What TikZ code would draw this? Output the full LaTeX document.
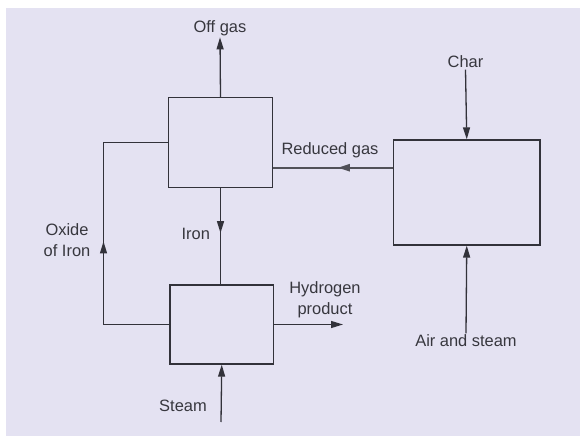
\documentclass[tikz,border=0pt]{standalone}
\usepackage{fontspec}
\setmainfont{Liberation Sans}
\usetikzlibrary{arrows.meta,decorations.markings,calc}
\definecolor{bgl}{RGB}{228,226,242}
\definecolor{ink}{RGB}{50,50,58}
\definecolor{txt}{RGB}{55,55,62}
\tikzset{
  box/.style={draw=ink,line width=1.3bp,minimum width=#1,inner sep=0pt},
  lab/.style={text=txt,font=\fontsize{16.5}{21}\selectfont,inner sep=1.5bp,align=center},
  flow/.style={draw=ink,line width=1.3bp},
  arr/.style={flow,-{Triangle[length=12bp,width=7bp]}},
  midarr/.style={flow,postaction={decorate},decoration={markings,mark=at position #1 with {\arrow{Triangle[length=12bp,width=7bp]}}}},
}
\begin{document}
\begin{tikzpicture}[x=1bp,y=-1bp]
\useasboundingbox (0,0) rectangle (585,436);
\fill[white] (0,0) rectangle (585,436);
\fill[bgl] (6,8) rectangle (580,436);
% boxes
\node[box=104bp,minimum height=90bp] (U) at (220.5,142.5) {};
\node[box=103.5bp,minimum height=79bp] (L) at (221.75,324.5) {};
\node[box=146.5bp,minimum height=105bp] (R) at (466.75,192.5) {};
% labels
\node[lab] (off) at (220,28) {Off gas};
\node[lab] (char) at (465.5,62) {Char};
\node[lab] (air) at (466,341) {Air and steam};
\node[lab] (red) at (330,150.5) {Reduced gas};
\node[lab] (iron) at (195.8,234) {Iron};
\node[lab] (ox) at (67,240) {Oxide\\of Iron};
\node[lab] (hyd) at (325,299.5) {Hydrogen\\product};
\node[lab] (steam) at (183,406) {Steam};
% free ends
\coordinate (h2out) at (343,324.5);
\coordinate (steamin) at (221,422);
\coordinate (lt) at (103.5,142.5);
\coordinate (lb) at (103.5,324.5);
% connectors
\draw[arr] (U.north) -- (off.south);
\draw[arr] (char.south) -- (R.north);
\draw[arr] (air.north) -- (R.south);
\draw[arr] (steamin) -- (L.south);
\draw[arr] (L.east) -- (h2out);
\draw[midarr=0.467] (U.south) -- (L.north -| U.south);
\draw[midarr=0.477] (L.west) -- (lb) -- (lt) -- (U.west);
\draw[midarr=0.46,line width=2.2bp,draw=ink!85] ($(R.north west)!0.267!(R.south west)$) coordinate (rg) -- (U.east |- rg);
\end{tikzpicture}
\end{document}
